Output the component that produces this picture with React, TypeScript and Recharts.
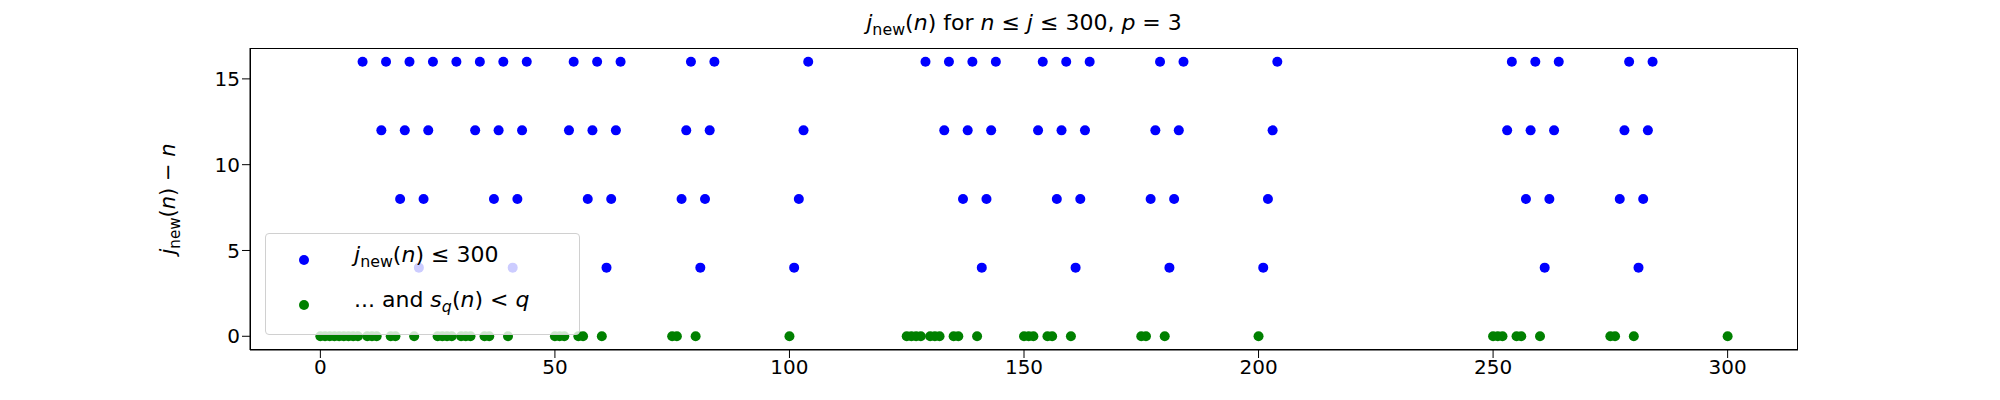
import React from 'react';
import { ScatterChart, Scatter, XAxis, YAxis } from 'recharts';

// n values where j_new(n) - n takes each offset
const gap16 = [9, 14, 19, 24, 29, 34, 39, 44, 54, 59, 64, 79, 84, 104, 129, 134, 139, 144, 154, 159, 164, 179, 184, 204, 254, 259, 264, 279, 284];
const gap12 = [13, 18, 23, 33, 38, 43, 53, 58, 63, 78, 83, 103, 133, 138, 143, 153, 158, 163, 178, 183, 203, 253, 258, 263, 278, 283];
const gap8 = [17, 22, 37, 42, 57, 62, 77, 82, 102, 137, 142, 157, 162, 177, 182, 202, 257, 262, 277, 282];
const gap4 = [21, 41, 61, 81, 101, 141, 161, 181, 201, 261, 281];
const gap0 = [0, 1, 2, 3, 4, 5, 6, 7, 8, 10, 11, 12, 15, 16, 20, 25, 26, 27, 28, 30, 31, 32, 35, 36, 40, 50, 51, 52, 55, 56, 60, 75, 76, 80, 100, 125, 126, 127, 128, 130, 131, 132, 135, 136, 140, 150, 151, 152, 155, 156, 160, 175, 176, 180, 200, 250, 251, 252, 255, 256, 260, 275, 276, 280, 300];

const xTicks = [0, 50, 100, 150, 200, 250, 300];
const yTicks = [0, 5, 10, 15];

const blueData = [
  ...gap16.map((n) => ({ n, d: 16 })),
  ...gap12.map((n) => ({ n, d: 12 })),
  ...gap8.map((n) => ({ n, d: 8 })),
  ...gap4.map((n) => ({ n, d: 4 })),
];
const greenData = gap0.map((n) => ({ n, d: 0 }));

const font = '"DejaVu Sans", sans-serif';

const Dot = (color: string) => (props: any) => (
  <circle cx={props.cx} cy={props.cy} r={5} fill={color} />
);

const JNew = () => (
  <span>
    <i>j</i>
    <sub style={{ fontSize: '0.72em' }}>new</sub>(<i>n</i>)
  </span>
);

export default function App() {
  return (
    <div style={{ position: 'absolute', left: 0, top: 0, width: 2000, height: 400, fontFamily: font, background: '#fff' }}>
      <ScatterChart width={2000} height={400} margin={{ top: 48, right: 202, bottom: 0, left: 0 }}>
        <XAxis
          type="number"
          dataKey="n"
          domain={[-15, 315]}
          ticks={xTicks}
          allowDataOverflow
          tickSize={8}
          stroke="#000"
          tick={{ fill: '#000', fontSize: 20, fontFamily: font }}
          height={50}
        />
        <YAxis
          type="number"
          dataKey="d"
          domain={[-0.8, 16.8]}
          ticks={yTicks}
          allowDataOverflow
          tickSize={8}
          stroke="#000"
          tick={{ fill: '#000', fontSize: 20, fontFamily: font }}
          width={250}
        />
        <Scatter data={blueData} fill="#0000ff" shape={Dot('#0000ff')} isAnimationActive={false} />
        <Scatter data={greenData} fill="#008000" shape={Dot('#008000')} isAnimationActive={false} />
      </ScatterChart>
      {/* frame around the plot area */}
      <div style={{ position: 'absolute', left: 250, top: 48, width: 1548, height: 302, border: '1.5px solid #000', boxSizing: 'border-box', pointerEvents: 'none' }} />
      {/* title */}
      <div style={{ position: 'absolute', left: 250, width: 1548, top: 10, textAlign: 'center', fontSize: 22 }}>
        <JNew /> for <i>n</i> ≤ <i>j</i> ≤ 300, <i>p</i> = 3
      </div>
      {/* y label */}
      <div style={{ position: 'absolute', left: 170, top: 199, fontSize: 21, transform: 'translate(-50%, -50%) rotate(-90deg)', whiteSpace: 'nowrap' }}>
        <JNew /> − <i>n</i>
      </div>
      {/* legend */}
      <div style={{ position: 'absolute', left: 265, top: 233, width: 315, height: 102, boxSizing: 'border-box', background: 'rgba(255,255,255,0.8)', border: '1.5px solid #d0d0d0', borderRadius: 4, fontSize: 22 }}>
        <div style={{ position: 'absolute', left: 33, top: 21, width: 10, height: 10, borderRadius: 5, background: '#0000ff' }} />
        <div style={{ position: 'absolute', left: 88, top: 8, whiteSpace: 'nowrap' }}>
          <JNew /> ≤ 300
        </div>
        <div style={{ position: 'absolute', left: 33, top: 66, width: 10, height: 10, borderRadius: 5, background: '#008000' }} />
        <div style={{ position: 'absolute', left: 88, top: 53, whiteSpace: 'nowrap' }}>
          ... and <i>s</i>
          <sub style={{ fontSize: '0.72em' }}><i>q</i></sub>(<i>n</i>) &lt; <i>q</i>
        </div>
      </div>
    </div>
  );
}
